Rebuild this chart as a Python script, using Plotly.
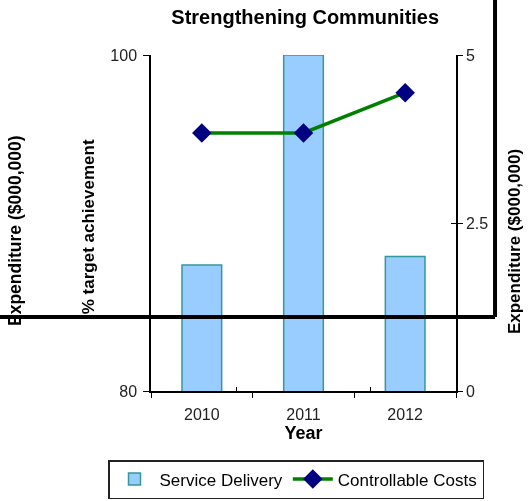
import plotly.graph_objects as go

# Chart data
years = ["2010", "2011", "2012"]
service_delivery = [87.5, 100.0, 88.0]        # % target achievement (left axis)
controllable_costs = [3.84, 3.84, 4.44]       # expenditure $000,000 (right axis)

left_ticks = [80, 100]
right_ticks = [0, 2.5, 5]

FONT = "Liberation Sans, Arial, sans-serif"

fig = go.Figure()

fig.add_trace(go.Bar(
    x=years, y=service_delivery, name="Service Delivery",
    marker=dict(color="#99CCFF", line=dict(color="#339999", width=1.5)),
    width=0.39, xaxis="x", yaxis="y",
))
fig.add_trace(go.Scatter(
    x=years, y=controllable_costs, name="Controllable Costs",
    mode="lines+markers",
    line=dict(color="#008000", width=3.5),
    marker=dict(symbol="diamond", size=15, color="#000080"),
    xaxis="x", yaxis="y2",
))
# invisible helpers so the overlay axes (inner half of cross ticks) get drawn
fig.add_trace(go.Scatter(x=years, y=service_delivery, mode="markers", opacity=0,
                         showlegend=False, hoverinfo="skip", xaxis="x2", yaxis="y3"))
fig.add_trace(go.Scatter(x=years, y=controllable_costs, mode="markers", opacity=0,
                         showlegend=False, hoverinfo="skip", xaxis="x2", yaxis="y4"))

axis_common = dict(showgrid=False, zeroline=False, tickcolor="black",
                   tickfont=dict(family=FONT, size=16, color="#222"))

fig.update_layout(
    width=529, height=501,
    margin=dict(l=151, r=73, t=55, b=110, autoexpand=False),
    paper_bgcolor="white", plot_bgcolor="white",
    font=dict(family=FONT, color="black"),
    title=dict(text="<b>Strengthening Communities</b>", x=0.577, xanchor="center",
               y=1 - 17 / 501, yanchor="middle",
               font=dict(family=FONT, size=20, color="black")),
    xaxis=dict(type="category", categoryorder="array", categoryarray=years,
               tickson="boundaries", ticks="outside", ticklen=5,
               ticklabelstandoff=8,
               showline=True, linecolor="black", linewidth=1.5,
               title=dict(text="<b>Year</b>", font=dict(family=FONT, size=18), standoff=4),
               **axis_common),
    xaxis2=dict(type="category", categoryorder="array", categoryarray=years,
                overlaying="x", tickson="boundaries", ticks="inside", ticklen=4,
                showticklabels=False, showline=False, showgrid=False, tickcolor="black"),
    yaxis=dict(range=[80, 100], tickvals=left_ticks, ticks="outside", ticklen=6,
               ticklabelstandoff=3,
               showline=True, linecolor="black", linewidth=1.5, **axis_common),
    yaxis3=dict(range=[80, 100], tickvals=left_ticks, overlaying="y", side="left",
                anchor="x", ticks="inside", ticklen=4, showticklabels=False,
                showline=False, showgrid=False, zeroline=False, tickcolor="black"),
    yaxis2=dict(range=[0, 5], tickvals=right_ticks, overlaying="y", side="right",
                anchor="x", ticks="outside", ticklen=5,
                showline=True, linecolor="black", linewidth=1.5, **axis_common),
    yaxis4=dict(range=[0, 5], tickvals=right_ticks, overlaying="y", side="right",
                anchor="x", ticks="inside", ticklen=5, showticklabels=False,
                showline=False, showgrid=False, zeroline=False, tickcolor="black"),
    bargap=0.61,
    showlegend=True,
    legend=dict(orientation="h", x=(108 - 151) / 305, xanchor="left",
                y=-(460 - 391) / 336, yanchor="top",
                bordercolor="#222", borderwidth=1.5,
                font=dict(family=FONT, size=17, color="black"),
                itemwidth=40, tracegroupgap=0),
    annotations=[
        dict(text="<b>Expenditure ($000,000)</b>", textangle=-90, xref="paper", yref="paper",
             x=-0.446, y=0.479, showarrow=False, xanchor="center", yanchor="middle",
             font=dict(family=FONT, size=17.5, color="black")),
        dict(text="<b>% target achievement</b>", textangle=-90, xref="paper", yref="paper",
             x=-0.207, y=0.49, showarrow=False, xanchor="center", yanchor="middle",
             font=dict(family=FONT, size=17, color="black")),
        dict(text="<b>Expenditure ($000,000)</b>", textangle=-90, xref="paper", yref="paper",
             x=1.19, y=0.446, showarrow=False, xanchor="center", yanchor="middle",
             font=dict(family=FONT, size=17, color="black")),
    ],
    shapes=[
        # black frame lines crossing the figure
        dict(type="line", xref="paper", yref="paper", x0=-0.5, x1=1.128, y0=0.22, y1=0.22,
             line=dict(color="black", width=4)),
        dict(type="line", xref="paper", yref="paper", x0=1.128, x1=1.128, y0=0.22, y1=1.2,
             line=dict(color="black", width=4)),
    ],
)

fig.write_html("out.html")
